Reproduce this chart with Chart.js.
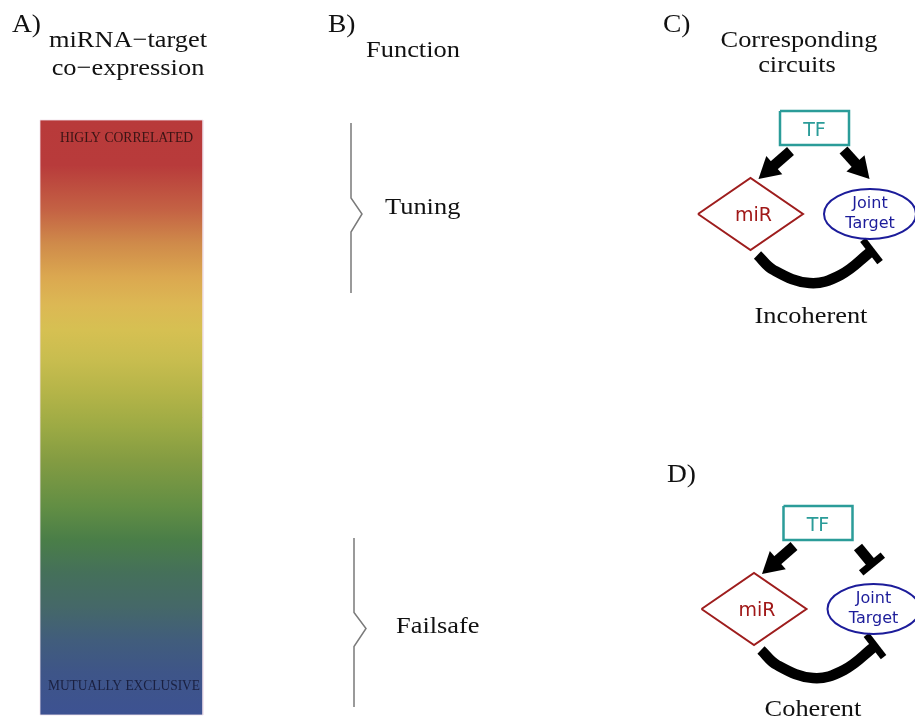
<!DOCTYPE html>
<html lang="en">
<head>
<meta charset="UTF-8" />
<title>miRNA-target co-expression and circuits</title>
<script src="https://cdn.jsdelivr.net/npm/chart.js@4.4.1/dist/chart.umd.min.js"></script>
<style>
  body { margin: 0; background: #fff; }
  #wrap { position: relative; width: 915px; height: 718px; }
</style>
</head>
<body>
<div id="wrap"><canvas id="fig"></canvas></div>
<script>
// ---- figure content ----
var panelLabels = ['A)', 'B)', 'C)', 'D)'];
var titleA = ['miRNA\u2212target', 'co\u2212expression'];
var titleB = ['Function'];
var titleC = ['Corresponding', 'circuits'];
var scaleEnds = ['HIGLY CORRELATED', 'MUTUALLY EXCLUSIVE'];
var functions = ['Tuning', 'Failsafe'];
// rows of the co-expression bar each function covers (top, bottom)
var functionSpan = [[123, 293], [538, 707]];
var circuits = ['Incoherent', 'Coherent'];
var nodeNames = ['TF', 'miR', 'Joint', 'Target'];
// edges: TF->miR, TF->target, miR->target ; act = arrow, inh = blunt end
var edgeKinds = [['act', 'act', 'inh'], ['act', 'inh', 'inh']];

// ---- layout / style ----
var L = {
  bar: { x0: 40, x1: 203, y0: 120, y1: 715 },
  braceX: [351, 354],
  braceTip: [11, 12],
  circuitOrigin: [[814.5, 128], [818, 523]],
  box: [69, 34],
  diamond: { cx: -64, cy: 86, hw: 52.5, hh: 36 },
  ellipse: { cx: 55.5, cy: 86, rx: 46, ry: 25 },
  edges: {
    act: [[[-24, 23], [-56, 51]], [[29, 22], [55, 51]]],
    inh: [null, [[40, 24], [54, 41]]],
    loop: [[-57, 127], [-41, 142], [-5, 155], [26, 147], [57, 123]]
  }
};
var barGradient = {
  stops: [0, 0.076, 0.151, 0.207, 0.264, 0.311, 0.353, 0.403, 0.459, 0.516, 0.571, 0.65, 0.706, 0.761, 0.818, 0.874, 0.929, 1],
  colors: ['#b83a3a', '#b83b3b', '#c46244', '#cf8a4a', '#dba850', '#dcb854', '#d6c052', '#c8bd4f', '#b4b448',
           '#9caa44', '#849c42', '#628e44', '#4a7e48', '#45705a', '#456868', '#415d7c', '#3e5588', '#3d5292']
};
var SERIF = '"Liberation Serif", "Times New Roman", serif';
var HAND = '"DejaVu Sans", sans-serif';
var texts = [
  { t: panelLabels[0], x: 12, y: 32, size: 25, align: 'left' },
  { t: titleA[0], x: 128, y: 47, size: 24 },
  { t: titleA[1], x: 128, y: 75, size: 24 },
  { t: panelLabels[1], x: 328, y: 32, size: 25, align: 'left' },
  { t: titleB[0], x: 413, y: 57, size: 24 },
  { t: functions[0], x: 385, y: 214, size: 24, align: 'left' },
  { t: functions[1], x: 396, y: 633, size: 24, align: 'left' },
  { t: panelLabels[2], x: 663, y: 32, size: 25, align: 'left' },
  { t: titleC[0], x: 799, y: 47, size: 24 },
  { t: titleC[1], x: 797, y: 72, size: 24 },
  { t: circuits[0], x: 811, y: 323, size: 24 },
  { t: panelLabels[3], x: 667, y: 482, size: 25, align: 'left' },
  { t: circuits[1], x: 813, y: 716, size: 24 },
  { t: scaleEnds[0], x: 126.5, y: 142, size: 14, color: '#3a1414', sx: 0.975 },
  { t: scaleEnds[1], x: 124, y: 690, size: 14, color: '#1a2040', sx: 0.96 }
];

function P(x, y) { return { x: x, y: y }; }
function rot(dx, dy) { return Math.atan2(dx, -dy) * 180 / Math.PI; }

var datasets = [];

// co-expression bar
var b = L.bar;
datasets.push({
  data: [P(b.x0, b.y0), P(b.x1, b.y0), P(b.x1, b.y1), P(b.x0, b.y1), P(b.x0, b.y0)],
  fill: 'shape',
  backgroundColor: function (ctx) {
    var ch = ctx.chart;
    if (!ch.chartArea) return barGradient.colors[0];
    var y = ch.scales.y;
    var g = ch.ctx.createLinearGradient(0, y.getPixelForValue(b.y0), 0, y.getPixelForValue(b.y1));
    barGradient.stops.forEach(function (s, i) { g.addColorStop(s, barGradient.colors[i]); });
    return g;
  },
  borderColor: 'rgba(240,225,235,0.8)', borderWidth: 1, pointRadius: 0, tension: 0
});

// braces for the functions
functionSpan.forEach(function (sp, i) {
  var x = L.braceX[i], mid = (sp[0] + sp[1]) / 2 + 6;
  datasets.push({
    data: [P(x, sp[0]), P(x, mid - 16), P(x + L.braceTip[i], mid), P(x, mid + 18), P(x, sp[1])],
    borderColor: '#7a7a7a', borderWidth: 1.5, pointRadius: 0, tension: 0
  });
});

function edgeSet(pts, kind) {
  var n = pts.length, a = pts[n - 2], z = pts[n - 1];
  var dx = z.x - a.x, dy = z.y - a.y, len = Math.hypot(dx, dy);
  dx /= len; dy /= len;
  var radii = pts.map(function () { return 0; });
  var widths = pts.map(function () { return 0; });
  var style = 'triangle';
  if (kind === 'act') {
    pts[n - 1] = P(z.x - dx * 14, z.y - dy * 14);
    radii[n - 1] = 14;
  } else {
    style = 'line';
    radii[n - 1] = 14;
    widths[n - 1] = 7;
  }
  return {
    data: pts, borderColor: '#000', borderWidth: 10.5, borderCapStyle: 'butt',
    tension: pts.length > 2 ? 0.4 : 0,
    pointRadius: radii, pointHoverRadius: radii, pointStyle: style,
    pointRotation: rot(dx, dy), pointBackgroundColor: '#000',
    pointBorderColor: '#000', pointBorderWidth: widths
  };
}

// circuits C and D
L.circuitOrigin.forEach(function (o, c) {
  var ox = o[0], oy = o[1];
  var w = L.box[0] / 2, h = L.box[1] / 2;
  datasets.push({
    data: [P(ox - w, oy - h), P(ox + w, oy - h), P(ox + w, oy + h), P(ox - w, oy + h), P(ox - w, oy - h)],
    borderColor: '#2b9c99', borderWidth: 2.5, pointRadius: 0, tension: 0
  });
  var d = L.diamond, dx0 = ox + d.cx, dy0 = oy + d.cy;
  datasets.push({
    data: [P(dx0 - d.hw, dy0), P(dx0, dy0 - d.hh), P(dx0 + d.hw, dy0), P(dx0, dy0 + d.hh), P(dx0 - d.hw, dy0)],
    borderColor: '#9e1d1d', borderWidth: 2, pointRadius: 0, tension: 0
  });
  edgeKinds[c].forEach(function (kind, e) {
    var geo;
    if (e === 2) geo = L.edges.loop;
    else geo = kind === 'act' ? L.edges.act[e] : L.edges.inh[e];
    var pts = geo.map(function (p) { return P(ox + p[0], oy + p[1]); });
    datasets.push(edgeSet(pts, kind));
  });
});

var figurePlugin = {
  id: 'figure',
  afterDatasetsDraw: function (chart) {
    var ctx = chart.ctx, sx = chart.scales.x, sy = chart.scales.y;
    function X(v) { return sx.getPixelForValue(v); }
    function Y(v) { return sy.getPixelForValue(v); }
    ctx.save();
    // target ellipses and node labels
    L.circuitOrigin.forEach(function (o) {
      var e = L.ellipse;
      ctx.beginPath();
      ctx.ellipse(X(o[0] + e.cx), Y(o[1] + e.cy), e.rx, e.ry, 0, 0, Math.PI * 2);
      ctx.strokeStyle = '#1c1c9a';
      ctx.lineWidth = 2;
      ctx.stroke();
      ctx.textAlign = 'center';
      ctx.textBaseline = 'alphabetic';
      ctx.font = '19px ' + HAND;
      ctx.fillStyle = '#2b9c99';
      ctx.fillText(nodeNames[0], X(o[0]), Y(o[1] + 8));
      ctx.fillStyle = '#a01818';
      ctx.fillText(nodeNames[1], X(o[0] + L.diamond.cx + 3), Y(o[1] + L.diamond.cy + 7));
      ctx.font = '16px ' + HAND;
      ctx.fillStyle = '#1c1c9a';
      ctx.fillText(nodeNames[2], X(o[0] + e.cx), Y(o[1] + e.cy - 6));
      ctx.fillText(nodeNames[3], X(o[0] + e.cx), Y(o[1] + e.cy + 14));
    });
    // labels and titles
    texts.forEach(function (t) {
      ctx.save();
      ctx.translate(X(t.x), Y(t.y));
      ctx.scale(t.sx || 1.1, 1);
      ctx.font = t.size + 'px ' + SERIF;
      ctx.fillStyle = t.color || '#111';
      ctx.textAlign = t.align || 'center';
      ctx.textBaseline = 'alphabetic';
      ctx.fillText(t.t, 0, 0);
      ctx.restore();
    });
    ctx.restore();
  }
};

new Chart(document.getElementById('fig'), {
  type: 'scatter',
  data: { datasets: datasets.map(function (d) { d.showLine = true; d.clip = false; return d; }) },
  options: {
    responsive: true,
    maintainAspectRatio: false,
    animation: false,
    events: [],
    layout: { padding: 0, autoPadding: false },
    scales: {
      x: { type: 'linear', min: 0, max: 915, display: false },
      y: { type: 'linear', min: 0, max: 718, reverse: true, display: false }
    },
    plugins: { legend: { display: false }, tooltip: { enabled: false } }
  },
  plugins: [figurePlugin]
});
</script>
</body>
</html>
